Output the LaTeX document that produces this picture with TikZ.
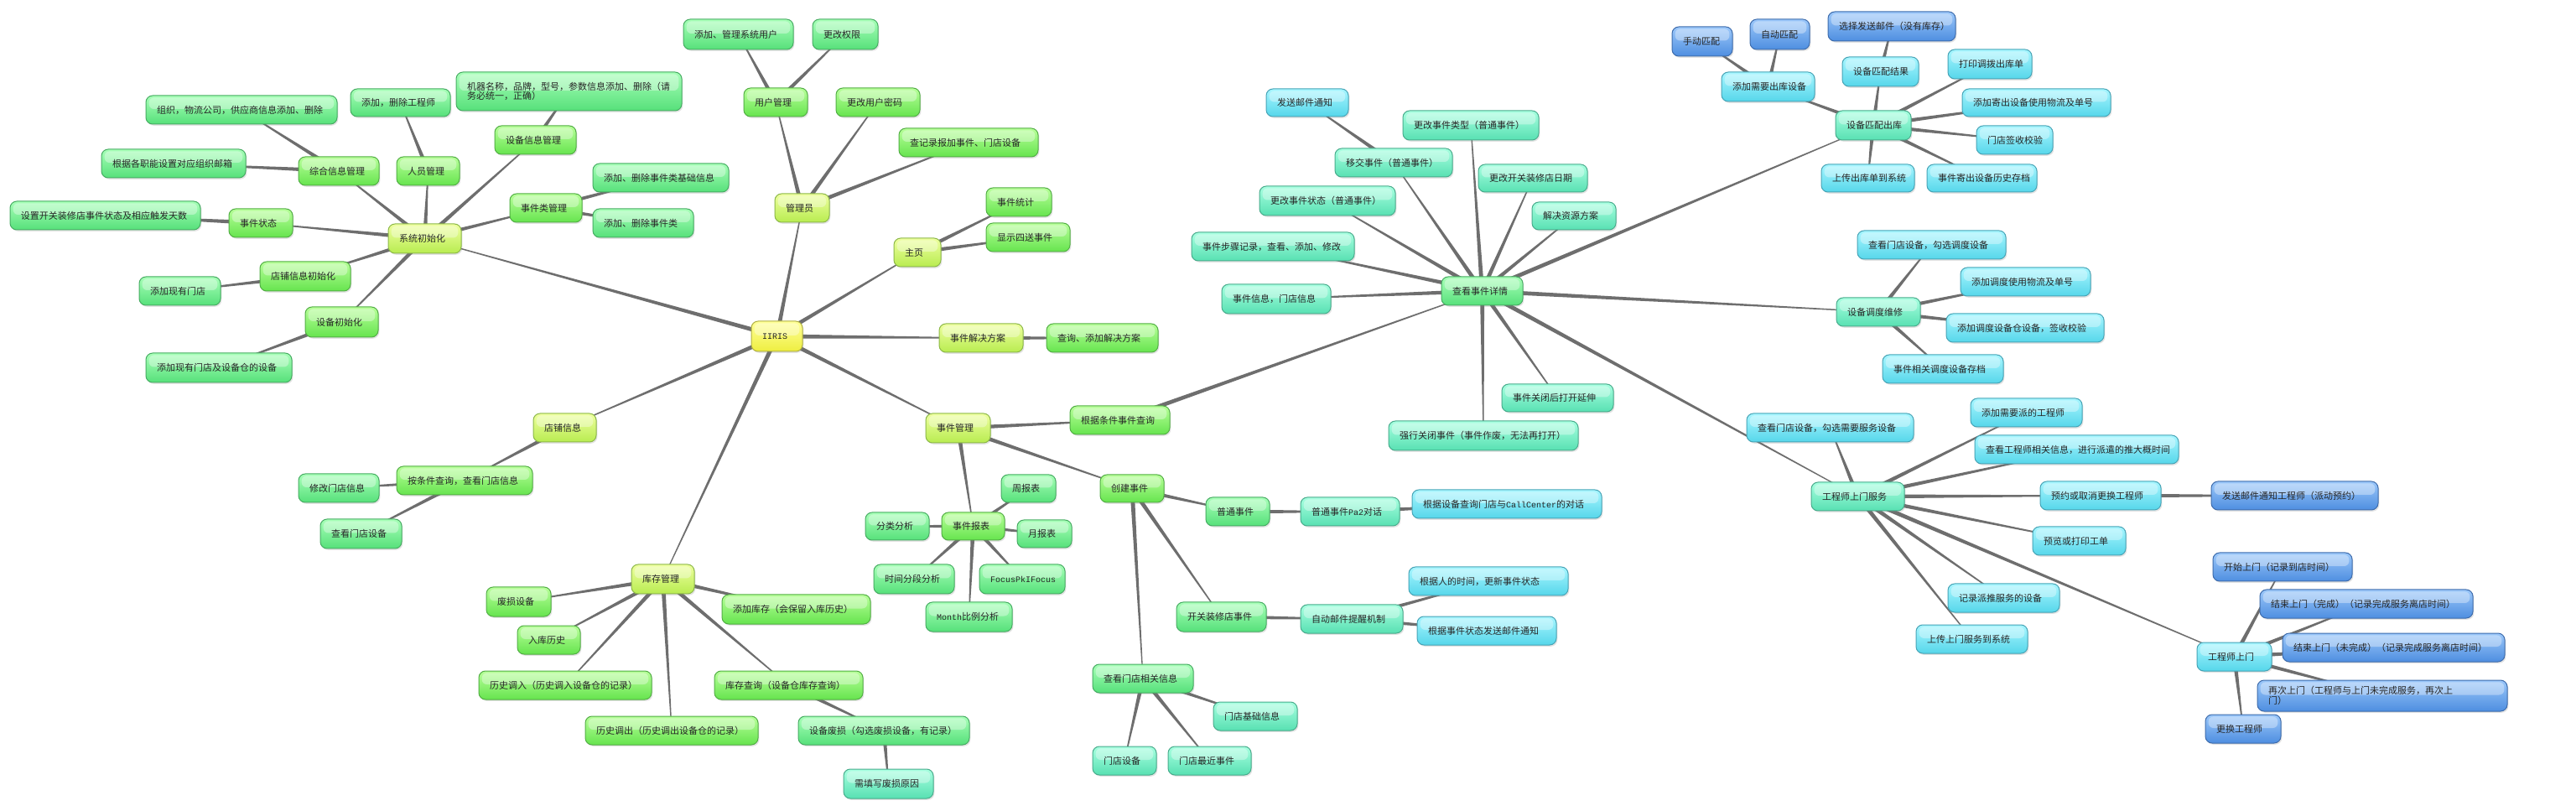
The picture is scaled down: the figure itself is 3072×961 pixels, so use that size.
\documentclass[tikz,border=0pt]{standalone}
\usepackage{fontspec}
\setmainfont{Noto Sans CJK SC}
\newfontfamily\monof{Liberation Mono}
\usetikzlibrary{calc,shadows}
\pgfdeclarelayer{bg}
\pgfsetlayers{bg,main}
\definecolor{c0t}{HTML}{FFFF9A}\definecolor{c0b}{HTML}{EEEE40}\definecolor{c0d}{HTML}{B0B040}
\definecolor{c1t}{HTML}{EEFFA0}\definecolor{c1b}{HTML}{B8EC50}\definecolor{c1d}{HTML}{8CB848}
\definecolor{c2t}{HTML}{B8FF9A}\definecolor{c2b}{HTML}{66E44E}\definecolor{c2d}{HTML}{52AE44}
\definecolor{c3t}{HTML}{A8FFB8}\definecolor{c3b}{HTML}{56E07A}\definecolor{c3d}{HTML}{46AC62}
\definecolor{c4t}{HTML}{A8FFE0}\definecolor{c4b}{HTML}{58E0B2}\definecolor{c4d}{HTML}{48AC8C}
\definecolor{c5t}{HTML}{A8F6FF}\definecolor{c5b}{HTML}{56D6EA}\definecolor{c5d}{HTML}{46A4B6}
\definecolor{c6t}{HTML}{9CC8FA}\definecolor{c6b}{HTML}{4E8EE0}\definecolor{c6d}{HTML}{3E6CAC}
\definecolor{edgec}{HTML}{6E6E6E}
\newcommand\lat[1]{{\monof\fontsize{5pt}{6pt}\selectfont #1}}
\newcommand\mmnode[7]{%
  \pgfmathsetmacro\mmw{(#4-#2-26)*0.5}%
  \pgfmathsetmacro\mmh{(#5-#3)*0.5}%
  \pgfmathsetmacro\mmx{(#2+#4)/2}%
  \pgfmathsetmacro\mmy{(#3+#5)/2}%
  \node[mmbox,#6,text width=\mmw pt,minimum height=\mmh pt] (#1) at (\mmx,\mmy) {#7};}
\newcommand\mmedge[2]{\fill[edgec] ($(#1)!1.3pt!90:(#2)$) -- ($(#1)!1.3pt!-90:(#2)$) -- ($(#2)!0.25pt!90:(#1)$) -- ($(#2)!0.25pt!-90:(#1)$) -- cycle;}
\tikzset{
  mmbox/.style={rounded corners=4pt, line width=0.5pt, inner xsep=6.5pt, inner ysep=0pt,
    align=left, text=black!85, font=\fontsize{5.5pt}{5.8pt}\selectfont,
    drop shadow={opacity=0.22, shadow xshift=0.7pt, shadow yshift=-0.9pt},
    path picture={\fill[white,opacity=0.35,rounded corners=3pt]
      ([xshift=1.8pt,yshift=-1.2pt]path picture bounding box.north west) rectangle
      ([xshift=-1.8pt,yshift=0.5pt]path picture bounding box.east);}},
  d0/.style={top color=c0t,bottom color=c0b,draw=c0d},
  d1/.style={top color=c1t,bottom color=c1b,draw=c1d},
  d2/.style={top color=c2t,bottom color=c2b,draw=c2d},
  d3/.style={top color=c3t,bottom color=c3b,draw=c3d},
  d4/.style={top color=c4t,bottom color=c4b,draw=c4d},
  d5/.style={top color=c5t,bottom color=c5b,draw=c5d},
  d6/.style={top color=c6t,bottom color=c6b,draw=c6d},
}
\begin{document}
\begin{tikzpicture}[x=0.5pt,y=-0.5pt]
\useasboundingbox (0,0) rectangle (3072,961);
% root and level 1
\mmnode{root}{896}{383}{957}{419}{d0}{\lat{IIRIS}}
\mmnode{sys}{463}{267}{550}{302}{d1}{系统初始化}
\mmnode{adm}{924}{231}{989}{265}{d1}{管理员}
\mmnode{home}{1066}{284}{1122}{318}{d1}{主页}
\mmnode{sol}{1120}{386}{1220}{420}{d1}{事件解决方案}
\mmnode{evt}{1104}{493}{1181}{528}{d1}{事件管理}
\mmnode{shop}{636}{493}{711}{527}{d1}{店铺信息}
\mmnode{stock}{753}{673}{828}{708}{d1}{库存管理}
% system init
\mmnode{zh}{356}{187}{452}{221}{d2}{综合信息管理}
\mmnode{ry}{473}{187}{548}{221}{d2}{人员管理}
\mmnode{sbxx}{590}{150}{687}{184}{d2}{设备信息管理}
\mmnode{sjl}{608}{231}{694}{265}{d2}{事件类管理}
\mmnode{sjzt}{273}{249}{349}{283}{d2}{事件状态}
\mmnode{dpcs}{310}{312}{418}{347}{d2}{店铺信息初始化}
\mmnode{sbcs}{364}{366}{451}{402}{d2}{设备初始化}
\mmnode{zz}{174}{114}{402}{148}{d3}{组织，物流公司，供应商信息添加、删除}
\mmnode{yx}{121}{178}{293}{212}{d3}{根据各职能设置对应组织邮箱}
\mmnode{gcs}{418}{106}{537}{139}{d3}{添加，删除工程师}
\mmnode{jq}{544}{86}{813}{132}{d3}{机器名称，品牌，型号，参数信息添加、删除（请\\务必统一，正确）}
\mmnode{sjljc}{707}{195}{869}{229}{d3}{添加、删除事件类基础信息}
\mmnode{sjlsc}{707}{249}{827}{283}{d3}{添加、删除事件类}
\mmnode{kgz}{12}{240}{239}{274}{d3}{设置开关装修店事件状态及相应触发天数}
\mmnode{xymd}{166}{330}{263}{364}{d3}{添加现有门店}
\mmnode{xysb}{174}{421}{348}{456}{d3}{添加现有门店及设备仓的设备}
% admin
\mmnode{yh}{887}{105}{963}{139}{d2}{用户管理}
\mmnode{pwd}{997}{105}{1097}{139}{d2}{更改用户密码}
\mmnode{cjl}{1072}{153}{1238}{187}{d2}{查记录报加事件、门店设备}
\mmnode{tjyh}{815}{23}{946}{59}{d3}{添加、管理系统用户}
\mmnode{qx}{969}{23}{1047}{59}{d3}{更改权限}
% home
\mmnode{tj}{1176}{224}{1254}{258}{d2}{事件统计}
\mmnode{xs}{1176}{266}{1276}{300}{d2}{显示四送事件}
% solution
\mmnode{cxfa}{1248}{386}{1381}{420}{d2}{查询、添加解决方案}
% shop
\mmnode{acx}{473}{556}{635}{590}{d2}{按条件查询，查看门店信息}
\mmnode{xgmd}{356}{565}{452}{599}{d3}{修改门店信息}
\mmnode{ckmd}{382}{619}{479}{654}{d3}{查看门店设备}
% stock
\mmnode{fssb}{580}{700}{657}{735}{d2}{废损设备}
\mmnode{rkls}{617}{746}{692}{780}{d2}{入库历史}
\mmnode{lsdr}{571}{800}{777}{834}{d2}{历史调入（历史调入设备仓的记录）}
\mmnode{lsdc}{698}{854}{904}{888}{d2}{历史调出（历史调出设备仓的记录）}
\mmnode{tjkc}{861}{709}{1038}{744}{d2}{添加库存（会保留入库历史）}
\mmnode{kccx}{852}{800}{1029}{834}{d2}{库存查询（设备仓库存查询）}
\mmnode{sbfs}{952}{854}{1156}{888}{d3}{设备废损（勾选废损设备，有记录）}
\mmnode{txyy}{1006}{917}{1113}{952}{d4}{需填写废损原因}
% events
\mmnode{cx}{1276}{484}{1395}{518}{d2}{根据条件事件查询}
\mmnode{cj}{1312}{566}{1388}{599}{d2}{创建事件}
\mmnode{bb}{1123}{611}{1198}{644}{d2}{事件报表}
\mmnode{zbb}{1194}{566}{1259}{599}{d3}{周报表}
\mmnode{ybb}{1213}{620}{1278}{653}{d3}{月报表}
\mmnode{fl}{1032}{611}{1108}{644}{d3}{分类分析}
\mmnode{sjfd}{1042}{673}{1138}{708}{d3}{时间分段分析}
\mmnode{focus}{1168}{673}{1270}{708}{d3}{\lat{FocusPkIFocus}}
\mmnode{month}{1104}{718}{1207}{753}{d3}{\lat{Month}比例分析}
\mmnode{pt}{1438}{593}{1514}{627}{d3}{普通事件}
\mmnode{kgzx}{1403}{718}{1510}{753}{d3}{开关装修店事件}
\mmnode{ckxg}{1303}{792}{1423}{826}{d3}{查看门店相关信息}
\mmnode{pa}{1551}{593}{1669}{627}{d4}{普通事件\lat{Pa2}对话}
\mmnode{cc}{1684}{584}{1910}{618}{d5}{根据设备查询门店与\lat{CallCenter}的对话}
\mmnode{zdyj}{1551}{721}{1673}{755}{d4}{自动邮件提醒机制}
\mmnode{gxzt}{1680}{676}{1870}{710}{d5}{根据人的时间，更新事件状态}
\mmnode{fsyj}{1690}{735}{1856}{769}{d5}{根据事件状态发送邮件通知}
\mmnode{mdjc}{1447}{837}{1547}{871}{d4}{门店基础信息}
\mmnode{mdsb}{1303}{890}{1379}{924}{d4}{门店设备}
\mmnode{mdzj}{1393}{890}{1492}{924}{d4}{门店最近事件}
% event details
\mmnode{xq}{1719}{330}{1816}{364}{d3}{查看事件详情}
\mmnode{yj}{1592}{177}{1732}{211}{d4}{移交事件（普通事件）}
\mmnode{yjtz}{1510}{106}{1608}{139}{d5}{发送邮件通知}
\mmnode{lx}{1673}{132}{1835}{167}{d4}{更改事件类型（普通事件）}
\mmnode{rq}{1763}{196}{1893}{229}{d4}{更改开关装修店日期}
\mmnode{zy}{1827}{241}{1927}{274}{d4}{解决资源方案}
\mmnode{zt}{1502}{222}{1664}{257}{d4}{更改事件状态（普通事件）}
\mmnode{bz}{1421}{277}{1615}{311}{d4}{事件步骤记录，查看、添加、修改}
\mmnode{xx}{1457}{339}{1587}{374}{d4}{事件信息，门店信息}
\mmnode{qxgb}{1656}{502}{1882}{537}{d4}{强行关闭事件（事件作废，无法再打开）}
\mmnode{gbdk}{1791}{458}{1924}{491}{d4}{事件关闭后打开延伸}
\mmnode{ppck}{2189}{132}{2279}{167}{d4}{设备匹配出库}
\mmnode{ddwx}{2190}{355}{2290}{389}{d4}{设备调度维修}
\mmnode{smfw}{2160}{575}{2271}{609}{d4}{工程师上门服务}
% matching
\mmnode{xyck}{2053}{86}{2164}{121}{d5}{添加需要出库设备}
\mmnode{sdpp}{1994}{32}{2066}{67}{d6}{手动匹配}
\mmnode{zdpp}{2087}{23}{2158}{59}{d6}{自动匹配}
\mmnode{ppjg}{2197}{68}{2288}{103}{d5}{设备匹配结果}
\mmnode{xzfs}{2180}{14}{2332}{49}{d6}{选择发送邮件（没有库存）}
\mmnode{dy}{2323}{59}{2423}{94}{d5}{打印调拨出库单}
\mmnode{wl}{2340}{106}{2517}{139}{d5}{添加寄出设备使用物流及单号}
\mmnode{qs}{2357}{150}{2448}{184}{d5}{门店签收校验}
\mmnode{sc}{2172}{196}{2283}{229}{d5}{上传出库单到系统}
\mmnode{cd}{2298}{196}{2429}{229}{d5}{事件寄出设备历史存档}
% dispatch
\mmnode{gxdd}{2215}{275}{2392}{309}{d5}{查看门店设备，勾选调度设备}
\mmnode{ddwl}{2338}{319}{2493}{353}{d5}{添加调度使用物流及单号}
\mmnode{ddqs}{2321}{374}{2509}{408}{d5}{添加调度设备仓设备，签收校验}
\mmnode{ddcd}{2245}{423}{2389}{457}{d5}{事件相关调度设备存档}
% engineer service
\mmnode{fwsb}{2083}{493}{2282}{527}{d5}{查看门店设备，勾选需要服务设备}
\mmnode{pgcs}{2350}{475}{2483}{509}{d5}{添加需要派的工程师}
\mmnode{gcsxx}{2355}{519}{2598}{553}{d5}{查看工程师相关信息，进行派遣的推大概时间}
\mmnode{yy}{2433}{574}{2577}{608}{d5}{预约或取消更换工程师}
\mmnode{yytz}{2637}{574}{2836}{608}{d6}{发送邮件通知工程师（派动预约）}
\mmnode{gd}{2424}{628}{2535}{662}{d5}{预览或打印工单}
\mmnode{jl}{2323}{696}{2456}{730}{d5}{记录派推服务的设备}
\mmnode{scfw}{2285}{745}{2418}{779}{d5}{上传上门服务到系统}
\mmnode{sm}{2620}{766}{2709}{800}{d5}{工程师上门}
\mmnode{ks}{2639}{659}{2805}{693}{d6}{开始上门（记录到店时间）}
\mmnode{jsa}{2695}{703}{2949}{737}{d6}{结束上门（完成）（记录完成服务离店时间）}
\mmnode{jsb}{2722}{755}{2987}{789}{d6}{结束上门（未完成）（记录完成服务离店时间）}
\mmnode{zc}{2692}{811}{2990}{848}{d6}{再次上门（工程师与上门未完成服务，再次上\\门）}
\mmnode{ghgcs}{2630}{852}{2720}{886}{d6}{更换工程师}
\begin{pgfonlayer}{bg}
\fill[white] (0,0) rectangle (3072,961);
\mmedge{root}{sys}\mmedge{root}{adm}\mmedge{root}{home}\mmedge{root}{sol}
\mmedge{root}{evt}\mmedge{root}{shop}\mmedge{root}{stock}
\mmedge{sys}{zh}\mmedge{sys}{ry}\mmedge{sys}{sbxx}\mmedge{sys}{sjl}
\mmedge{sys}{sjzt}\mmedge{sys}{dpcs}\mmedge{sys}{sbcs}
\mmedge{zh}{zz}\mmedge{zh}{yx}\mmedge{ry}{gcs}\mmedge{sbxx}{jq}
\mmedge{sjl}{sjljc}\mmedge{sjl}{sjlsc}\mmedge{sjzt}{kgz}\mmedge{dpcs}{xymd}\mmedge{sbcs}{xysb}
\mmedge{adm}{yh}\mmedge{adm}{pwd}\mmedge{adm}{cjl}\mmedge{yh}{tjyh}\mmedge{yh}{qx}
\mmedge{home}{tj}\mmedge{home}{xs}
\mmedge{sol}{cxfa}
\mmedge{shop}{acx}\mmedge{acx}{xgmd}\mmedge{acx}{ckmd}
\mmedge{stock}{fssb}\mmedge{stock}{rkls}\mmedge{stock}{lsdr}\mmedge{stock}{lsdc}
\mmedge{stock}{tjkc}\mmedge{stock}{kccx}\mmedge{kccx}{sbfs}\mmedge{sbfs}{txyy}
\mmedge{evt}{cx}\mmedge{evt}{cj}\mmedge{evt}{bb}
\mmedge{bb}{zbb}\mmedge{bb}{ybb}\mmedge{bb}{fl}\mmedge{bb}{sjfd}\mmedge{bb}{focus}\mmedge{bb}{month}
\mmedge{cj}{pt}\mmedge{cj}{kgzx}\mmedge{cj}{ckxg}
\mmedge{pt}{pa}\mmedge{pa}{cc}\mmedge{kgzx}{zdyj}\mmedge{zdyj}{gxzt}\mmedge{zdyj}{fsyj}
\mmedge{ckxg}{mdjc}\mmedge{ckxg}{mdsb}\mmedge{ckxg}{mdzj}
\mmedge{cx}{xq}
\mmedge{xq}{yj}\mmedge{yj}{yjtz}\mmedge{xq}{lx}\mmedge{xq}{rq}\mmedge{xq}{zy}
\mmedge{xq}{zt}\mmedge{xq}{bz}\mmedge{xq}{xx}\mmedge{xq}{qxgb}\mmedge{xq}{gbdk}
\mmedge{xq}{ppck}\mmedge{xq}{ddwx}\mmedge{xq}{smfw}
\mmedge{ppck}{xyck}\mmedge{xyck}{sdpp}\mmedge{xyck}{zdpp}\mmedge{ppck}{ppjg}\mmedge{ppjg}{xzfs}
\mmedge{ppck}{dy}\mmedge{ppck}{wl}\mmedge{ppck}{qs}\mmedge{ppck}{sc}\mmedge{ppck}{cd}
\mmedge{ddwx}{gxdd}\mmedge{ddwx}{ddwl}\mmedge{ddwx}{ddqs}\mmedge{ddwx}{ddcd}
\mmedge{smfw}{fwsb}\mmedge{smfw}{pgcs}\mmedge{smfw}{gcsxx}\mmedge{smfw}{yy}\mmedge{yy}{yytz}
\mmedge{smfw}{gd}\mmedge{smfw}{jl}\mmedge{smfw}{scfw}\mmedge{smfw}{sm}
\mmedge{sm}{ks}\mmedge{sm}{jsa}\mmedge{sm}{jsb}\mmedge{sm}{zc}\mmedge{sm}{ghgcs}
\end{pgfonlayer}
\end{tikzpicture}
\end{document}
